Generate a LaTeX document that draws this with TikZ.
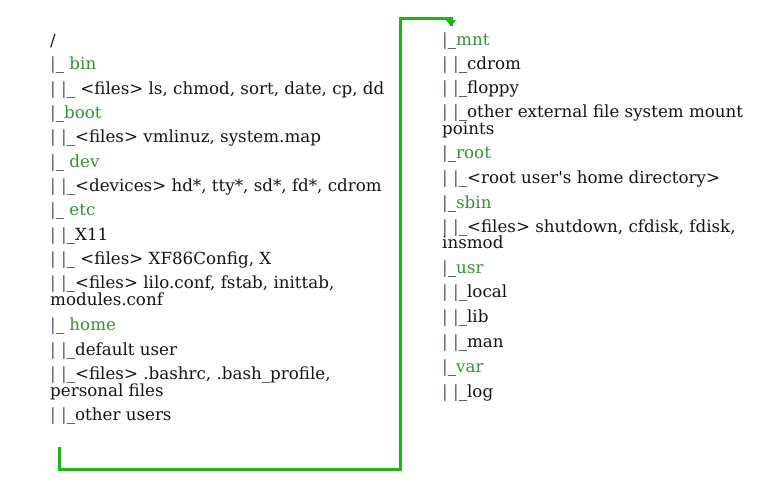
\documentclass[tikz,border=0pt]{standalone}
\usepackage{fontspec}
\setmainfont{DejaVu Serif}
\usetikzlibrary{arrows.meta}
\definecolor{pipecol}{rgb}{0.3,0.34,0.5}
\definecolor{txtcol}{rgb}{0.08,0.08,0.08}
\definecolor{dircol}{rgb}{0.2,0.58,0.2}
\definecolor{linecol}{rgb}{0.1,0.72,0.1}
\newcommand{\pp}{\textcolor{pipecol}{|}}
\newcommand{\subp}{\pp\ \pp\_}
\newcommand{\dn}[1]{\textcolor{dircol}{#1}}
\begin{document}
\begin{tikzpicture}[x=1pt,y=-1pt,
  treeline/.style={anchor=base west, inner sep=0pt, text=txtcol, font=\fontsize{16.7}{19}\selectfont},
  flow/.style={draw=linecol, line width=3pt}]
\useasboundingbox (0,0) rectangle (772,501);
% left column
\node[treeline] (root) at (50,46) {/};
\node[treeline] (bin) at (50,69) {\pp\_ \dn{bin}};
\node[treeline] (binf) at (50,94) {\subp\ <files> ls, chmod, sort, date, cp, dd};
\node[treeline] (boot) at (50,118) {\pp\_\dn{boot}};
\node[treeline] (bootf) at (50,142) {\subp<files> vmlinuz, system.map};
\node[treeline] (dev) at (50,167) {\pp\_ \dn{dev}};
\node[treeline] (devf) at (50,191) {\subp<devices> hd*, tty*, sd*, fd*, cdrom};
\node[treeline] (etc) at (50,215) {\pp\_ \dn{etc}};
\node[treeline] (x11) at (50,240) {\subp X11};
\node[treeline] (xf86) at (50,264) {\subp\ <files> XF86Config, X};
\node[treeline] (lilo) at (50,288) {\subp<files> lilo.conf, fstab, inittab,};
\node[treeline] (modc) at (50,305) {modules.conf};
\node[treeline] (home) at (50,330) {\pp\_ \dn{home}};
\node[treeline] (defu) at (50,355) {\subp default user};
\node[treeline] (bash) at (50,379) {\subp<files> .bashrc, .bash\_profile,};
\node[treeline] (pers) at (50,396) {personal files};
\node[treeline] (othu) at (50,420) {\subp other users};
% right column
\node[treeline] (mnt) at (442,45) {\pp\_\dn{mnt}};
\node[treeline] (cdrom) at (442,69) {\subp cdrom};
\node[treeline] (floppy) at (442,93) {\subp floppy};
\node[treeline] (oext) at (442,117) {\subp other external file system mount};
\node[treeline] (points) at (442,134) {points};
\node[treeline] (rootd) at (442,158) {\pp\_\dn{root}};
\node[treeline] (rooth) at (442,183) {\subp<root user\textquotesingle s home directory>};
\node[treeline] (sbin) at (442,208) {\pp\_\dn{sbin}};
\node[treeline] (sbinf) at (442,232) {\subp<files> shutdown, cfdisk, fdisk,};
\node[treeline] (insm) at (442,248) {insmod};
\node[treeline] (usr) at (442,273) {\pp\_\dn{usr}};
\node[treeline] (local) at (442,297) {\subp local};
\node[treeline] (lib) at (442,322) {\subp lib};
\node[treeline] (man) at (442,347) {\subp man};
\node[treeline] (var) at (442,372) {\pp\_\dn{var}};
\node[treeline] (log) at (442,397) {\subp log};
% connector
\coordinate (cstart) at (59,447);
\coordinate (cb1) at (59,469);
\coordinate (cb2) at (400,469);
\coordinate (ct1) at (400,18);
\coordinate (ct2) at (451,18);
\coordinate (cend) at (451,26);
\draw[flow, line join=miter] (cstart) -- (cb1) -- (cb2) -- (ct1) -- (ct2) -- (cend);
\fill[linecol] (446,20) -- (456,20) -- (451,26.5) -- cycle;
\end{tikzpicture}
\end{document}
